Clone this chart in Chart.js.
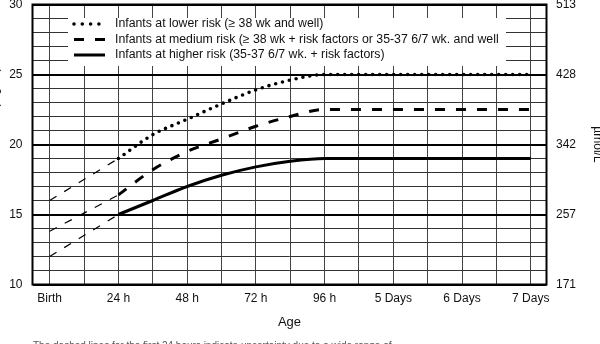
<!DOCTYPE html>
<html lang="en">
<head>
<meta charset="UTF-8">
<title>Exchange transfusion thresholds by age</title>
<script src="https://cdn.jsdelivr.net/npm/chart.js@4.4.1/dist/chart.umd.min.js"></script>
<style>
  html, body { margin: 0; padding: 0; background: #fff; }
  .wrap { position: relative; width: 600px; height: 344px; overflow: hidden; }
  .caption {
    position: absolute; left: 33px; top: 340px; width: 370px;
    font: 10px "Liberation Sans", Arial, sans-serif; line-height: 12px; color: #555;
  }
</style>
</head>
<body>
<div class="wrap">
  <canvas id="chart" width="600" height="344"></canvas>
  <div class="caption">The dashed lines for the first 24 hours indicate uncertainty due to a wide range of clinical circumstances and a range of responses to phototherapy.</div>
</div>

<script>
  const FONT = '"Liberation Sans", Arial, Helvetica, sans-serif';

  // x axis: gridlines every 12 h, labels every 24 h
  const gridHours = [0, 12, 24, 36, 48, 60, 72, 84, 96, 108, 120, 132, 144, 156, 168];
  const labelHours = [0, 24, 48, 72, 96, 120, 144, 168];
  const ageLabels = ['Birth', '24 h', '48 h', '72 h', '96 h', '5 Days', '6 Days', '7 Days'];

  // right axis labels (µmol/L) for 10, 15, 20, 25, 30 mg/dL
  const umolLabels = ['171', '257', '342', '428', '513'];

  const riskLabels = [
    'Infants at lower risk (\u2265 38 wk and well)',
    'Infants at medium risk (\u2265 38 wk + risk factors or 35-37 6/7 wk. and well',
    'Infants at higher risk (35-37 6/7 wk. + risk factors)'
  ];

  // first 24 h (thin dashed, uncertain)
  const earlyHours = [0, 24];
  const lowerEarly = [16, 19];
  const mediumEarly = [13.8, 16.4];
  const higherEarly = [12, 15];

  // from 24 h on
  const curveHours = [24, 36, 48, 60, 72, 84, 96, 168];
  const lowerRisk = [19, 20.7, 21.8, 22.9, 23.9, 24.6, 25, 25];
  const mediumRisk = [16.4, 18.2, 19.5, 20.4, 21.3, 22.0, 22.5, 22.5];
  const higherRisk = [15, 16, 17, 17.8, 18.4, 18.8, 19, 19];

  const toXY = (xs, ys) => xs.map((x, i) => ({ x: x, y: ys[i] }));

  const dotted = { borderDash: [0, 7], borderCapStyle: 'round', borderWidth: 3.6 };
  const dashed = { borderDash: [10, 11], borderCapStyle: 'butt', borderWidth: 3 };
  const solid = { borderDash: [], borderCapStyle: 'butt', borderWidth: 3 };
  const thin = { borderDash: [8, 9], borderCapStyle: 'butt', borderWidth: 1.2 };

  function line(label, data, style) {
    return Object.assign({
      label: label,
      data: data,
      borderColor: '#000',
      backgroundColor: '#000',
      fill: false,
      pointRadius: 0,
      cubicInterpolationMode: 'monotone'
    }, style);
  }

  // no extra label padding, the plot box is fixed by afterFit
  function noPad(s) {
    s.paddingTop = 0;
    s.paddingBottom = 0;
    s.paddingLeft = 0;
    s.paddingRight = 0;
  }

  // legend drawn inside the plot, on a white box over the grid
  const insetLegend = {
    id: 'insetLegend',
    beforeDatasetsDraw(chart) {
      const { ctx, chartArea: a } = chart;
      ctx.save();
      ctx.fillStyle = '#fff';
      ctx.fillRect(a.left + 35.5, a.top + 13.5, 438, 48);

      for (let i = 0; i < 3; i++) {
        const ds = chart.data.datasets[i];
        const y = a.top + 19.5 + i * 15.5;
        ctx.beginPath();
        ctx.strokeStyle = '#000';
        ctx.lineWidth = ds.borderWidth;
        ctx.lineCap = ds.borderCapStyle;
        ctx.setLineDash(i === 0 ? [0, 8.3] : ds.borderDash);
        ctx.moveTo(a.left + 41.5, y);
        ctx.lineTo(a.left + 72.5, y);
        ctx.stroke();
        ctx.setLineDash([]);
        ctx.fillStyle = '#111';
        ctx.font = '12.3px ' + FONT;
        ctx.textBaseline = 'middle';
        ctx.fillText(ds.label, a.left + 82.5, y);
      }

      // frame
      ctx.lineWidth = 2;
      ctx.strokeStyle = '#000';
      ctx.strokeRect(a.left, a.top, a.width, a.height);
      ctx.restore();
    }
  };

  new Chart(document.getElementById('chart'), {
    type: 'line',
    data: {
      datasets: [
        line(riskLabels[0], toXY(curveHours, lowerRisk), dotted),
        line(riskLabels[1], toXY(curveHours, mediumRisk), dashed),
        line(riskLabels[2], toXY(curveHours, higherRisk), solid),
        line('', toXY(earlyHours, lowerEarly), thin),
        line('', toXY(earlyHours, mediumEarly), thin),
        line('', toXY(earlyHours, higherEarly), thin)
      ]
    },
    plugins: [insetLegend],
    options: {
      responsive: true,
      maintainAspectRatio: false,
      animation: false,
      layout: { padding: { top: 4.5, left: 0, right: 0, bottom: 0 } },
      plugins: {
        legend: { display: false },
        tooltip: { enabled: false }
      },
      scales: {
        x: {
          type: 'linear',
          min: -6,
          max: 173.5,
          afterBuildTicks: s => { s.ticks = gridHours.map(v => ({ value: v })); },
          afterFit: s => { s.height = 59.5; noPad(s); },
          ticks: {
            autoSkip: false,
            maxRotation: 0,
            padding: 7,
            color: '#111',
            font: { family: FONT, size: 12 },
            callback: v => {
              const i = labelHours.indexOf(v);
              return i >= 0 ? ageLabels[i] : '';
            }
          },
          grid: { drawTicks: false, color: '#444', lineWidth: 1 },
          border: { display: false },
          title: {
            display: true,
            text: 'Age',
            color: '#111',
            font: { family: FONT, size: 13 },
            padding: { top: 0, bottom: 14 }
          }
        },
        y: {
          position: 'left',
          min: 10,
          max: 30,
          afterFit: s => { s.width = 32.5; noPad(s); },
          ticks: {
            stepSize: 1,
            autoSkip: false,
            padding: 10,
            color: '#111',
            font: { family: FONT, size: 12 },
            callback: v => (v % 5 === 0 ? v : '')
          },
          grid: {
            drawTicks: false,
            color: c => (c.tick && c.tick.value % 5 === 0 ? '#000' : '#333'),
            lineWidth: c => (c.tick && c.tick.value % 5 === 0 ? 2 : 1)
          },
          border: { display: false },
          title: {
            display: true,
            text: 'Total Serum Bilirubin (mg/dL)',
            color: '#111',
            font: { family: FONT, size: 12 },
            padding: { top: -13, bottom: 0 }
          }
        },
        y2: {
          position: 'right',
          min: 10,
          max: 30,
          afterFit: s => { s.width = 53.5; noPad(s); },
          ticks: {
            stepSize: 5,
            padding: 9.5,
            color: '#111',
            font: { family: FONT, size: 12 },
            callback: (v, i) => umolLabels[i]
          },
          grid: { drawOnChartArea: false, drawTicks: false },
          border: { display: false },
          title: {
            display: true,
            text: '\u00b5mol/L',
            color: '#111',
            font: { family: FONT, size: 12 },
            padding: { top: -5, bottom: 0 }
          }
        }
      }
    }
  });
</script>
</body>
</html>
